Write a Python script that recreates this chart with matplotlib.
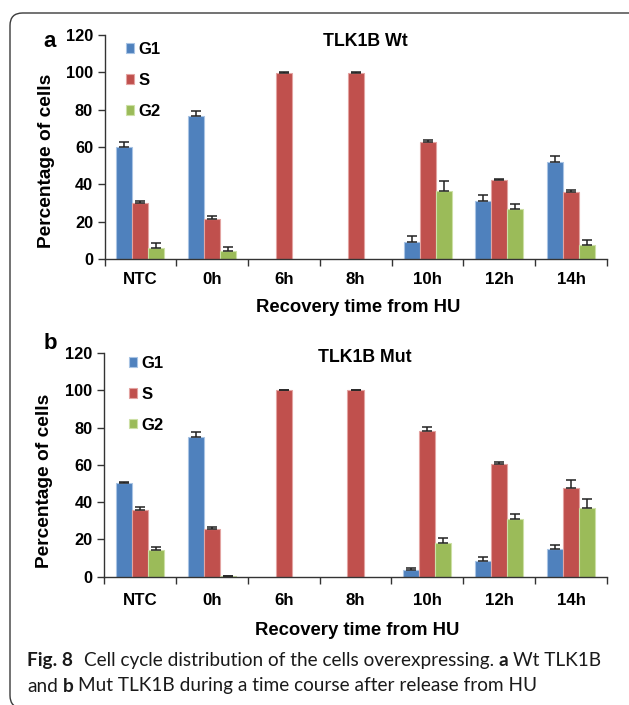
import matplotlib
matplotlib.use("Agg")
import matplotlib.pyplot as plt
from matplotlib.patches import FancyBboxPatch
import numpy as np

# ---------------- data ----------------
categories = ['NTC', '0h', '6h', '8h', '10h', '12h', '14h']
phases = ['G1', 'S', 'G2']

wt_g1 = [60, 76.6, 0, 0, 8.9, 30.9, 51.8]
wt_s = [29.8, 21.6, 99.5, 99.5, 62.8, 42.2, 35.7]
wt_g2 = [6.1, 4.3, 0, 0, 36.6, 26.8, 7.5]
wt_g1_err = [2.9, 2.7, 0, 0, 3.6, 3.4, 3.4]
wt_s_err = [1.1, 1.3, 0.9, 0.9, 0.9, 0.9, 1.3]
wt_g2_err = [2.3, 2.0, 0, 0, 5.0, 2.5, 2.7]

mut_g1 = [50.1, 75.1, 0, 0, 3.4, 8.4, 15.0]
mut_s = [35.8, 25.6, 100, 100, 78.3, 60.6, 47.7]
mut_g2 = [14.3, 0.3, 0, 0, 18.2, 30.8, 36.7]
mut_g1_err = [0.9, 2.4, 0, 0, 1.4, 2.2, 2.2]
mut_s_err = [1.4, 0.9, 0.2, 0.2, 2.2, 0.9, 4.0]
mut_g2_err = [1.5, 0.3, 0, 0, 2.6, 3.0, 4.8]

yticks = [0, 20, 40, 60, 80, 100, 120]

colors = ['#4F81BD', '#C0504D', '#9BBB59']
edges = ['#A9C4E4', '#E3A3A1', '#CDE0A6']

W, H = 629, 705
fig = plt.figure(figsize=(W / 100, H / 100), dpi=100)
fig.patch.set_facecolor('white')

FONT = 'Liberation Sans'


def px_rect(l, t, r, b):
    return [l / W, 1 - b / H, (r - l) / W, (b - t) / H]


# rounded frame
frame = FancyBboxPatch((10 / W, 1 - 708 / H), (650 - 10) / W, (708 - 13) / H,
                       boxstyle="round,pad=0,rounding_size=0.02",
                       transform=fig.transFigure, facecolor='none',
                       edgecolor='#3a3a3a', linewidth=1.0, clip_on=False,
                       mutation_aspect=W / H)
fig.patches.append(frame)

panels = [
    dict(rect=px_rect(104.5, 35, 607, 259), data=(wt_g1, wt_s, wt_g2),
         err=(wt_g1_err, wt_s_err, wt_g2_err), title='TLK1B Wt', tb=46,
         letter='a', lx=43, lb=47, xl_y=-0.235, yl=(-0.1164, 0.439), pad=9.0,
         leg=(126, 42)),
    dict(rect=px_rect(104, 353, 607, 576.7), data=(mut_g1, mut_s, mut_g2),
         err=(mut_g1_err, mut_s_err, mut_g2_err), title='TLK1B Mut', tb=361.7,
         letter='b', lx=44, lb=349, xl_y=-0.261, yl=(-0.119, 0.430), pad=11.5,
         leg=(129, 356)),
]

x = np.arange(len(categories))
bw = 0.223
for p in panels:
    ax = fig.add_axes(p['rect'])
    handles = []
    for i, (vals, errs) in enumerate(zip(p['data'], p['err'])):
        off = (i - 1) * bw
        v = np.asarray(vals, dtype=float)
        e = np.asarray(errs, dtype=float)
        m = v > 0
        b = ax.bar(x[m] + off, v[m], width=bw, color=colors[i], edgecolor=edges[i],
                   linewidth=0.8, label=phases[i], zorder=2)
        handles.append(b)
        ax.errorbar(x[m] + off, v[m], yerr=[np.zeros(m.sum()), e[m]], fmt='none',
                    ecolor='#222222', elinewidth=1.1, capsize=3.5, capthick=1.1,
                    zorder=3)
    ax.set_xlim(-0.5, 6.5)
    ax.set_ylim(0, 120)
    ax.set_yticks(yticks)
    ax.set_yticklabels([str(v) for v in yticks], fontsize=11.8,
                       fontweight='bold', family=FONT)
    ax.set_xticks(x)
    ax.set_xticklabels(categories, fontsize=12.2, fontweight='bold', family=FONT)
    ax.set_xticks(np.arange(-0.5, 7.0, 1.0), minor=True)
    ax.tick_params(axis='x', which='major', length=0, pad=p['pad'])
    ax.tick_params(axis='x', which='minor', length=5, width=1, direction='out',
                   color='#333333')
    ax.tick_params(axis='y', length=5, width=1, direction='out', pad=3.2,
                   color='#333333')
    for s in ['top', 'right']:
        ax.spines[s].set_visible(False)
    for s in ['left', 'bottom']:
        ax.spines[s].set_color('#333333')
        ax.spines[s].set_linewidth(1.0)
    ax.set_xlabel('Recovery time from HU', fontsize=13.3, fontweight='bold',
                  family=FONT, va='baseline')
    ax.xaxis.set_label_coords(0.504, p['xl_y'])
    ax.set_ylabel('Percentage of cells', fontsize=13.8, fontweight='bold',
                  family=FONT, va='center')
    ax.yaxis.set_label_coords(*p['yl'])
    leg = ax.legend(handles=handles, loc='upper left',
                    bbox_to_anchor=(p['leg'][0] / W, 1 - p['leg'][1] / H),
                    bbox_transform=fig.transFigure, frameon=False,
                    prop=dict(family=FONT, weight='bold', size=12),
                    handlelength=0.5, handleheight=0.5, handletextpad=0.25,
                    labelspacing=0.95, borderpad=0, borderaxespad=0)
    fig.text(365 / W, 1 - p['tb'] / H, p['title'], ha='center', va='baseline',
             fontsize=12.8, fontweight='bold', family=FONT)
    fig.text(p['lx'] / W, 1 - p['lb'] / H, p['letter'], ha='left',
             va='baseline', fontsize=16, fontweight='bold', family=FONT)

# ---------------- caption ----------------
CAP_FONT = 'Lato'
renderer = fig.canvas.get_renderer()

line1 = [('Fig. 8', True), (None, 11), ('Cell cycle distribution of the cells overexpressing.', False),
         (None, 'sp'), ('a', True), (None, 'sp'), ('Wt TLK1B', False)]
line2 = [('and', False), (None, 'sp'), ('b', True), (None, 'sp'),
         ('Mut TLK1B during a time course after release from HU', False)]


def measure(s, bold, size):
    t = fig.text(0, 0, s, fontsize=size, fontweight='bold' if bold else 'normal',
                 family=CAP_FONT)
    w = t.get_window_extent(renderer).width
    t.remove()
    return w


def space_w(size):
    return measure('x x', False, size) - measure('xx', False, size)


def line_width(segs, size):
    tot = 0
    for s, b in segs:
        if s is None:
            tot += space_w(size) if b == 'sp' else b
        else:
            tot += measure(s, b, size)
    return tot


base = 12.0
w0 = line_width(line1, base)
cap_size = base * (602 - 27) / w0


def draw_line(segs, x0, baseline, size):
    xx = x0
    for s, b in segs:
        if s is None:
            xx += space_w(size) if b == 'sp' else b
            continue
        t = fig.text(xx / W, 1 - baseline / H, s, fontsize=size,
                     fontweight='bold' if b else 'normal', family=CAP_FONT,
                     ha='left', va='baseline', color='#1a1a1a')
        xx += t.get_window_extent(renderer).width


draw_line(line1, 27, 666, cap_size)
draw_line(line2, 27, 691.5, cap_size)

fig.savefig('out.png', dpi=100, facecolor='white')
